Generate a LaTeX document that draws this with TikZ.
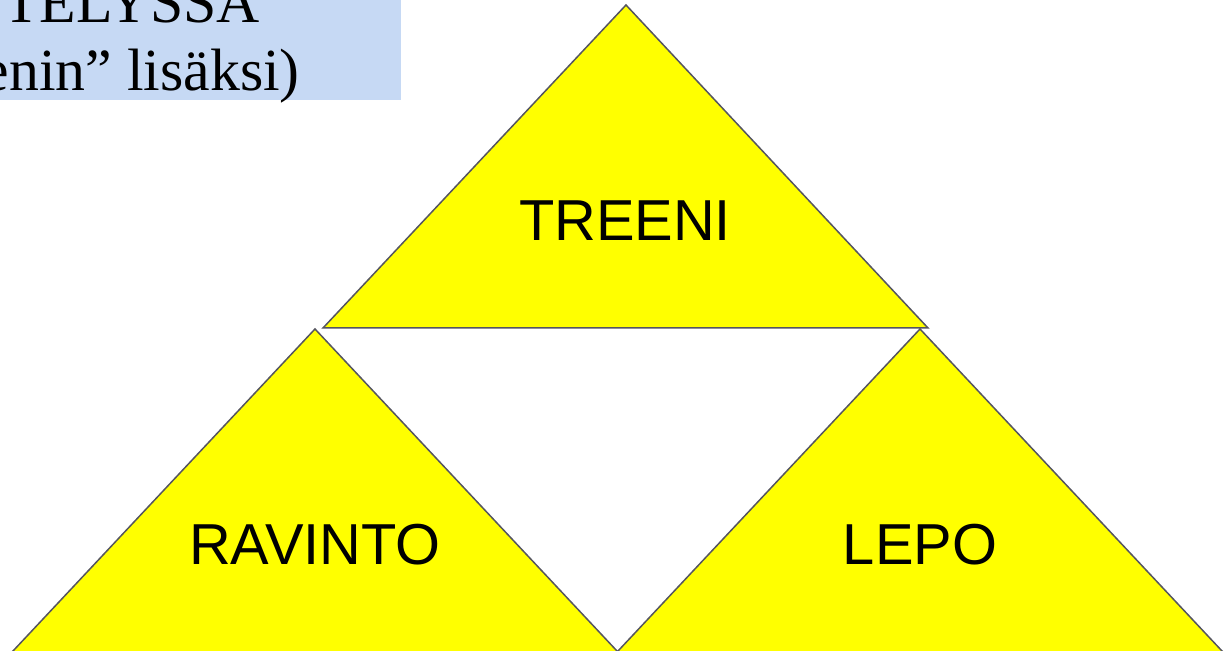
\documentclass[tikz,border=0pt]{standalone}
\usepackage{fontspec}
\setmainfont{Liberation Serif}
\newfontfamily\arialfont{Liberation Sans}
\definecolor{boxblue}{RGB}{198,217,244}
\definecolor{edgegray}{RGB}{85,85,95}
\definecolor{triyellow}{RGB}{255,255,0}
\begin{document}
\begin{tikzpicture}[x=1bp,y=1bp,
  tri/.style={fill=triyellow,draw=edgegray,line width=1.5bp,line join=miter},
  lbl/.style={font=\arialfont\fontsize{58}{62}\selectfont,inner sep=0pt},
  boxtxt/.style={font=\fontsize{60}{66}\selectfont,inner sep=0pt,anchor=base east}]
\useasboundingbox (0,0) rectangle (1226,651);
\clip (0,0) rectangle (1226,651);
\fill[boxblue] (0,551) rectangle (401,651);
\node[boxtxt] (l1) at (260,628) {ITTELYSSÄ};
\node[boxtxt] (l2) at (300,560) {(”treenin” lisäksi)};
\draw[tri] (626,646) -- (928,323) -- (323,323) -- cycle;
\draw[tri] (315,322) -- (647,-32) -- (-17,-32) -- cycle;
\draw[tri] (920,322) -- (1252,-32) -- (588,-32) -- cycle;
\node[lbl] (treeni) at (625,430) {TREENI};
\node[lbl] (ravinto) at (315,106) {RAVINTO};
\node[lbl] (lepo) at (920,106) {LEPO};
\end{tikzpicture}
\end{document}
